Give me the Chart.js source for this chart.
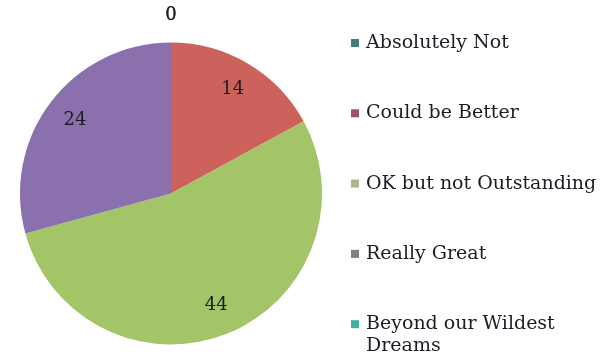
<!DOCTYPE html>
<html>
<head>
<meta charset="utf-8">
<script src="https://cdn.jsdelivr.net/npm/chart.js@4/dist/chart.umd.min.js"></script>
<style>
  html, body { margin: 0; padding: 0; background: #ffffff; }
  #wrap { width: 613px; height: 362px; position: relative; }
</style>
</head>
<body>
<div id="wrap"><canvas id="pie" width="613" height="362"></canvas></div>
<script>
// Survey answers and how many people gave each one
const categories = [
  'Absolutely Not',
  'Could be Better',
  'OK but not Outstanding',
  'Really Great',
  'Beyond our Wildest Dreams'
];
const responses = [0, 14, 44, 24, 0];

// Slice fills and the legend swatch colours
const sliceColors = ['#3f7f76', '#cd615c', '#a3c467', '#8a71ae', '#3fb0a2'];
const swatchColors = ['#3f7f76', '#a2506a', '#a9b68c', '#7f7f7f', '#3fb0a2'];

const serif = '"DejaVu Serif", "Liberation Serif", serif';

// Value labels: inside the slice for non-zero values, above the pie for zeros
const valueLabels = {
  id: 'valueLabels',
  afterDatasetsDraw(chart) {
    const ctx = chart.ctx;
    const meta = chart.getDatasetMeta(0);
    const values = chart.data.datasets[0].data;
    ctx.save();
    ctx.font = '18px ' + serif;
    ctx.fillStyle = '#1c1c26';
    ctx.textAlign = 'center';
    ctx.textBaseline = 'middle';
    meta.data.forEach((arc, i) => {
      const p = arc.getProps(['x', 'y', 'startAngle', 'endAngle', 'outerRadius'], true);
      const mid = (p.startAngle + p.endAngle) / 2;
      const r = values[i] === 0 ? p.outerRadius + 27 : p.outerRadius * 0.8;
      ctx.fillText(String(values[i]), p.x + Math.cos(mid) * r, p.y + Math.sin(mid) * r);
    });
    ctx.restore();
  }
};

// Legend column to the right of the pie, one entry per category
const sideLegend = {
  id: 'sideLegend',
  afterDraw(chart) {
    const ctx = chart.ctx;
    const lines = [['Absolutely Not'], ['Could be Better'], ['OK but not Outstanding'], ['Really Great'], ['Beyond our Wildest', 'Dreams']];
    const x0 = 351, top = 43, step = 70.3, lineH = 22;
    ctx.save();
    ctx.font = '19px ' + serif;
    ctx.textBaseline = 'middle';
    ctx.textAlign = 'left';
    categories.forEach((c, i) => {
      const y = top + i * step;
      ctx.fillStyle = swatchColors[i];
      ctx.fillRect(x0, y - 4, 8, 8);
      ctx.fillStyle = '#1c1c26';
      lines[i].forEach((t, k) => ctx.fillText(t, x0 + 15, y + k * lineH));
    });
    ctx.restore();
  }
};

new Chart(document.getElementById('pie'), {
  type: 'pie',
  data: {
    labels: categories,
    datasets: [{
      data: responses,
      backgroundColor: sliceColors,
      borderWidth: 0
    }]
  },
  options: {
    responsive: false,
    animation: false,
    layout: { padding: { left: 20, right: 291, top: 42, bottom: 17 } },
    plugins: {
      legend: { display: false },
      tooltip: { enabled: false }
    }
  },
  plugins: [valueLabels, sideLegend]
});
</script>
</body>
</html>
